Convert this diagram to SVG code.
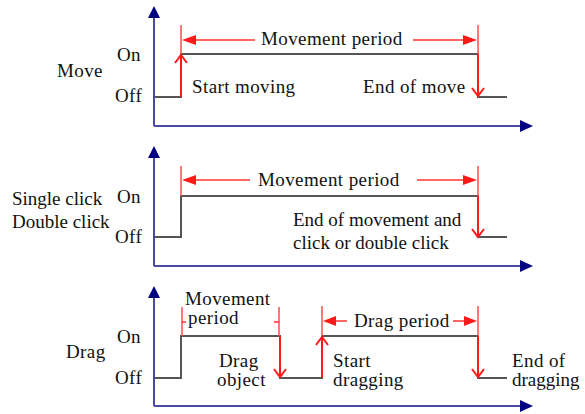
<svg xmlns="http://www.w3.org/2000/svg" width="585" height="414" viewBox="0 0 585 414">
<style>
text{font-family:"Liberation Serif","Times New Roman",serif;font-size:19px;letter-spacing:0.4px;fill:#111}
text.tight{letter-spacing:0px}
.ax{stroke:#4a4aa0;stroke-width:2;fill:none}
.axh{fill:#000080}
.sig{stroke:#555;stroke-width:2;fill:none}
.tr{stroke:#ff1a1a;stroke-width:2;fill:none}
.tk{stroke:#ff4d4d;stroke-width:1.5;fill:none}
.pa{stroke:#ff3333;stroke-width:1.5;fill:none}
.ah{fill:#ff1a1a}
</style>
<rect width="585" height="414" fill="#fff"/>

<g id="panel-move">
  <g id="axes-1">
    <line class="ax" x1="154" y1="16" x2="154" y2="126"/>
    <line class="ax" x1="154" y1="126" x2="522" y2="126"/>
    <polygon class="axh" points="154,6 148,18 160,18"/>
    <polygon class="axh" points="533,126 520,120 520,132"/>
  </g>
  <text x="57" y="77">Move</text>
  <text x="117" y="61">On</text>
  <text x="115" y="102">Off</text>
  <polyline class="sig" points="155,97 181,97 181,54 478,54 478,97 507,97"/>
  <g id="move-start">
    <line class="tr" x1="181" y1="97" x2="181" y2="55"/>
    <polyline class="tr" points="175,63 181,55 187,63"/>
    <text x="192" y="93">Start moving</text>
  </g>
  <g id="move-end">
    <line class="tr" x1="478" y1="54" x2="478" y2="96"/>
    <polyline class="tr" points="472,88 478,96 484,88"/>
    <text x="363" y="93">End of move</text>
  </g>
  <g id="move-period">
    <line class="tk" x1="181" y1="25" x2="181" y2="54"/>
    <line class="tk" x1="478" y1="25" x2="478" y2="54"/>
    <line class="pa" x1="195" y1="40" x2="255" y2="40"/>
    <polygon class="ah" points="182,40 196,35 196,45"/>
    <line class="pa" x1="413" y1="40" x2="464" y2="40"/>
    <polygon class="ah" points="477,40 463,35 463,45"/>
    <text x="261" y="45">Movement period</text>
  </g>
</g>

<g id="panel-click">
  <g id="axes-2">
    <line class="ax" x1="154" y1="156" x2="154" y2="266"/>
    <line class="ax" x1="154" y1="266" x2="522" y2="266"/>
    <polygon class="axh" points="154,146 148,158 160,158"/>
    <polygon class="axh" points="533,266 520,260 520,272"/>
  </g>
  <text class="tight" x="12" y="205">Single click</text>
  <text class="tight" x="12" y="228">Double click</text>
  <text x="117" y="203">On</text>
  <text x="115" y="243">Off</text>
  <polyline class="sig" points="155,237 181,237 181,196 478,196 478,237 507,237"/>
  <g id="click-end">
    <line class="tr" x1="478" y1="196" x2="478" y2="237"/>
    <polyline class="tr" points="472,229 478,237 484,229"/>
    <text class="tight" x="293" y="226">End of movement and</text>
    <text class="tight" x="293" y="249">click or double click</text>
  </g>
  <g id="click-period">
    <line class="tk" x1="181" y1="166" x2="181" y2="196"/>
    <line class="tk" x1="478" y1="166" x2="478" y2="196"/>
    <line class="pa" x1="195" y1="180" x2="250" y2="180"/>
    <polygon class="ah" points="182,180 196,175 196,185"/>
    <line class="pa" x1="417" y1="180" x2="464" y2="180"/>
    <polygon class="ah" points="477,180 463,175 463,185"/>
    <text x="258" y="186">Movement period</text>
  </g>
</g>

<g id="panel-drag">
  <g id="axes-3">
    <line class="ax" x1="154" y1="296" x2="154" y2="406"/>
    <line class="ax" x1="154" y1="406" x2="522" y2="406"/>
    <polygon class="axh" points="154,286 148,298 160,298"/>
    <polygon class="axh" points="533,406 520,400 520,412"/>
  </g>
  <text x="66" y="358">Drag</text>
  <text x="117" y="343">On</text>
  <text x="115" y="384">Off</text>
  <polyline class="sig" points="155,378 181,378 181,336 280,336 280,378 322,378 322,336 478,336 478,378 507,378"/>
  <g id="drag-move-period">
    <line class="tk" x1="182" y1="307" x2="182" y2="336"/>
    <line class="tk" x1="279" y1="307" x2="279" y2="336"/>
    <line class="pa" x1="182" y1="322" x2="186" y2="322"/>
    <line class="pa" x1="274" y1="322" x2="279" y2="322"/>
    <text x="185" y="305">Movement</text>
    <text x="188" y="324">period</text>
  </g>
  <g id="drag-object">
    <line class="tr" x1="280" y1="336" x2="280" y2="377"/>
    <polyline class="tr" points="274,369 280,377 286,369"/>
    <text x="219" y="367">Drag</text>
    <text x="217" y="386">object</text>
  </g>
  <g id="drag-start">
    <line class="tr" x1="322" y1="378" x2="322" y2="337"/>
    <polyline class="tr" points="316,345 322,337 328,345"/>
    <text x="333" y="367">Start</text>
    <text x="333" y="386">dragging</text>
  </g>
  <g id="drag-end">
    <line class="tr" x1="478" y1="336" x2="478" y2="377"/>
    <polyline class="tr" points="472,369 478,377 484,369"/>
    <text x="512" y="367">End of</text>
    <text class="tight" x="512" y="386">dragging</text>
  </g>
  <g id="drag-period">
    <line class="tk" x1="322" y1="306" x2="322" y2="336"/>
    <line class="tk" x1="478" y1="306" x2="478" y2="336"/>
    <line class="pa" x1="334" y1="321" x2="347" y2="321"/>
    <polygon class="ah" points="323,321 336,316 336,326"/>
    <line class="pa" x1="453" y1="321" x2="466" y2="321"/>
    <polygon class="ah" points="477,321 464,316 464,326"/>
    <text x="354" y="327">Drag period</text>
  </g>
</g>
</svg>
